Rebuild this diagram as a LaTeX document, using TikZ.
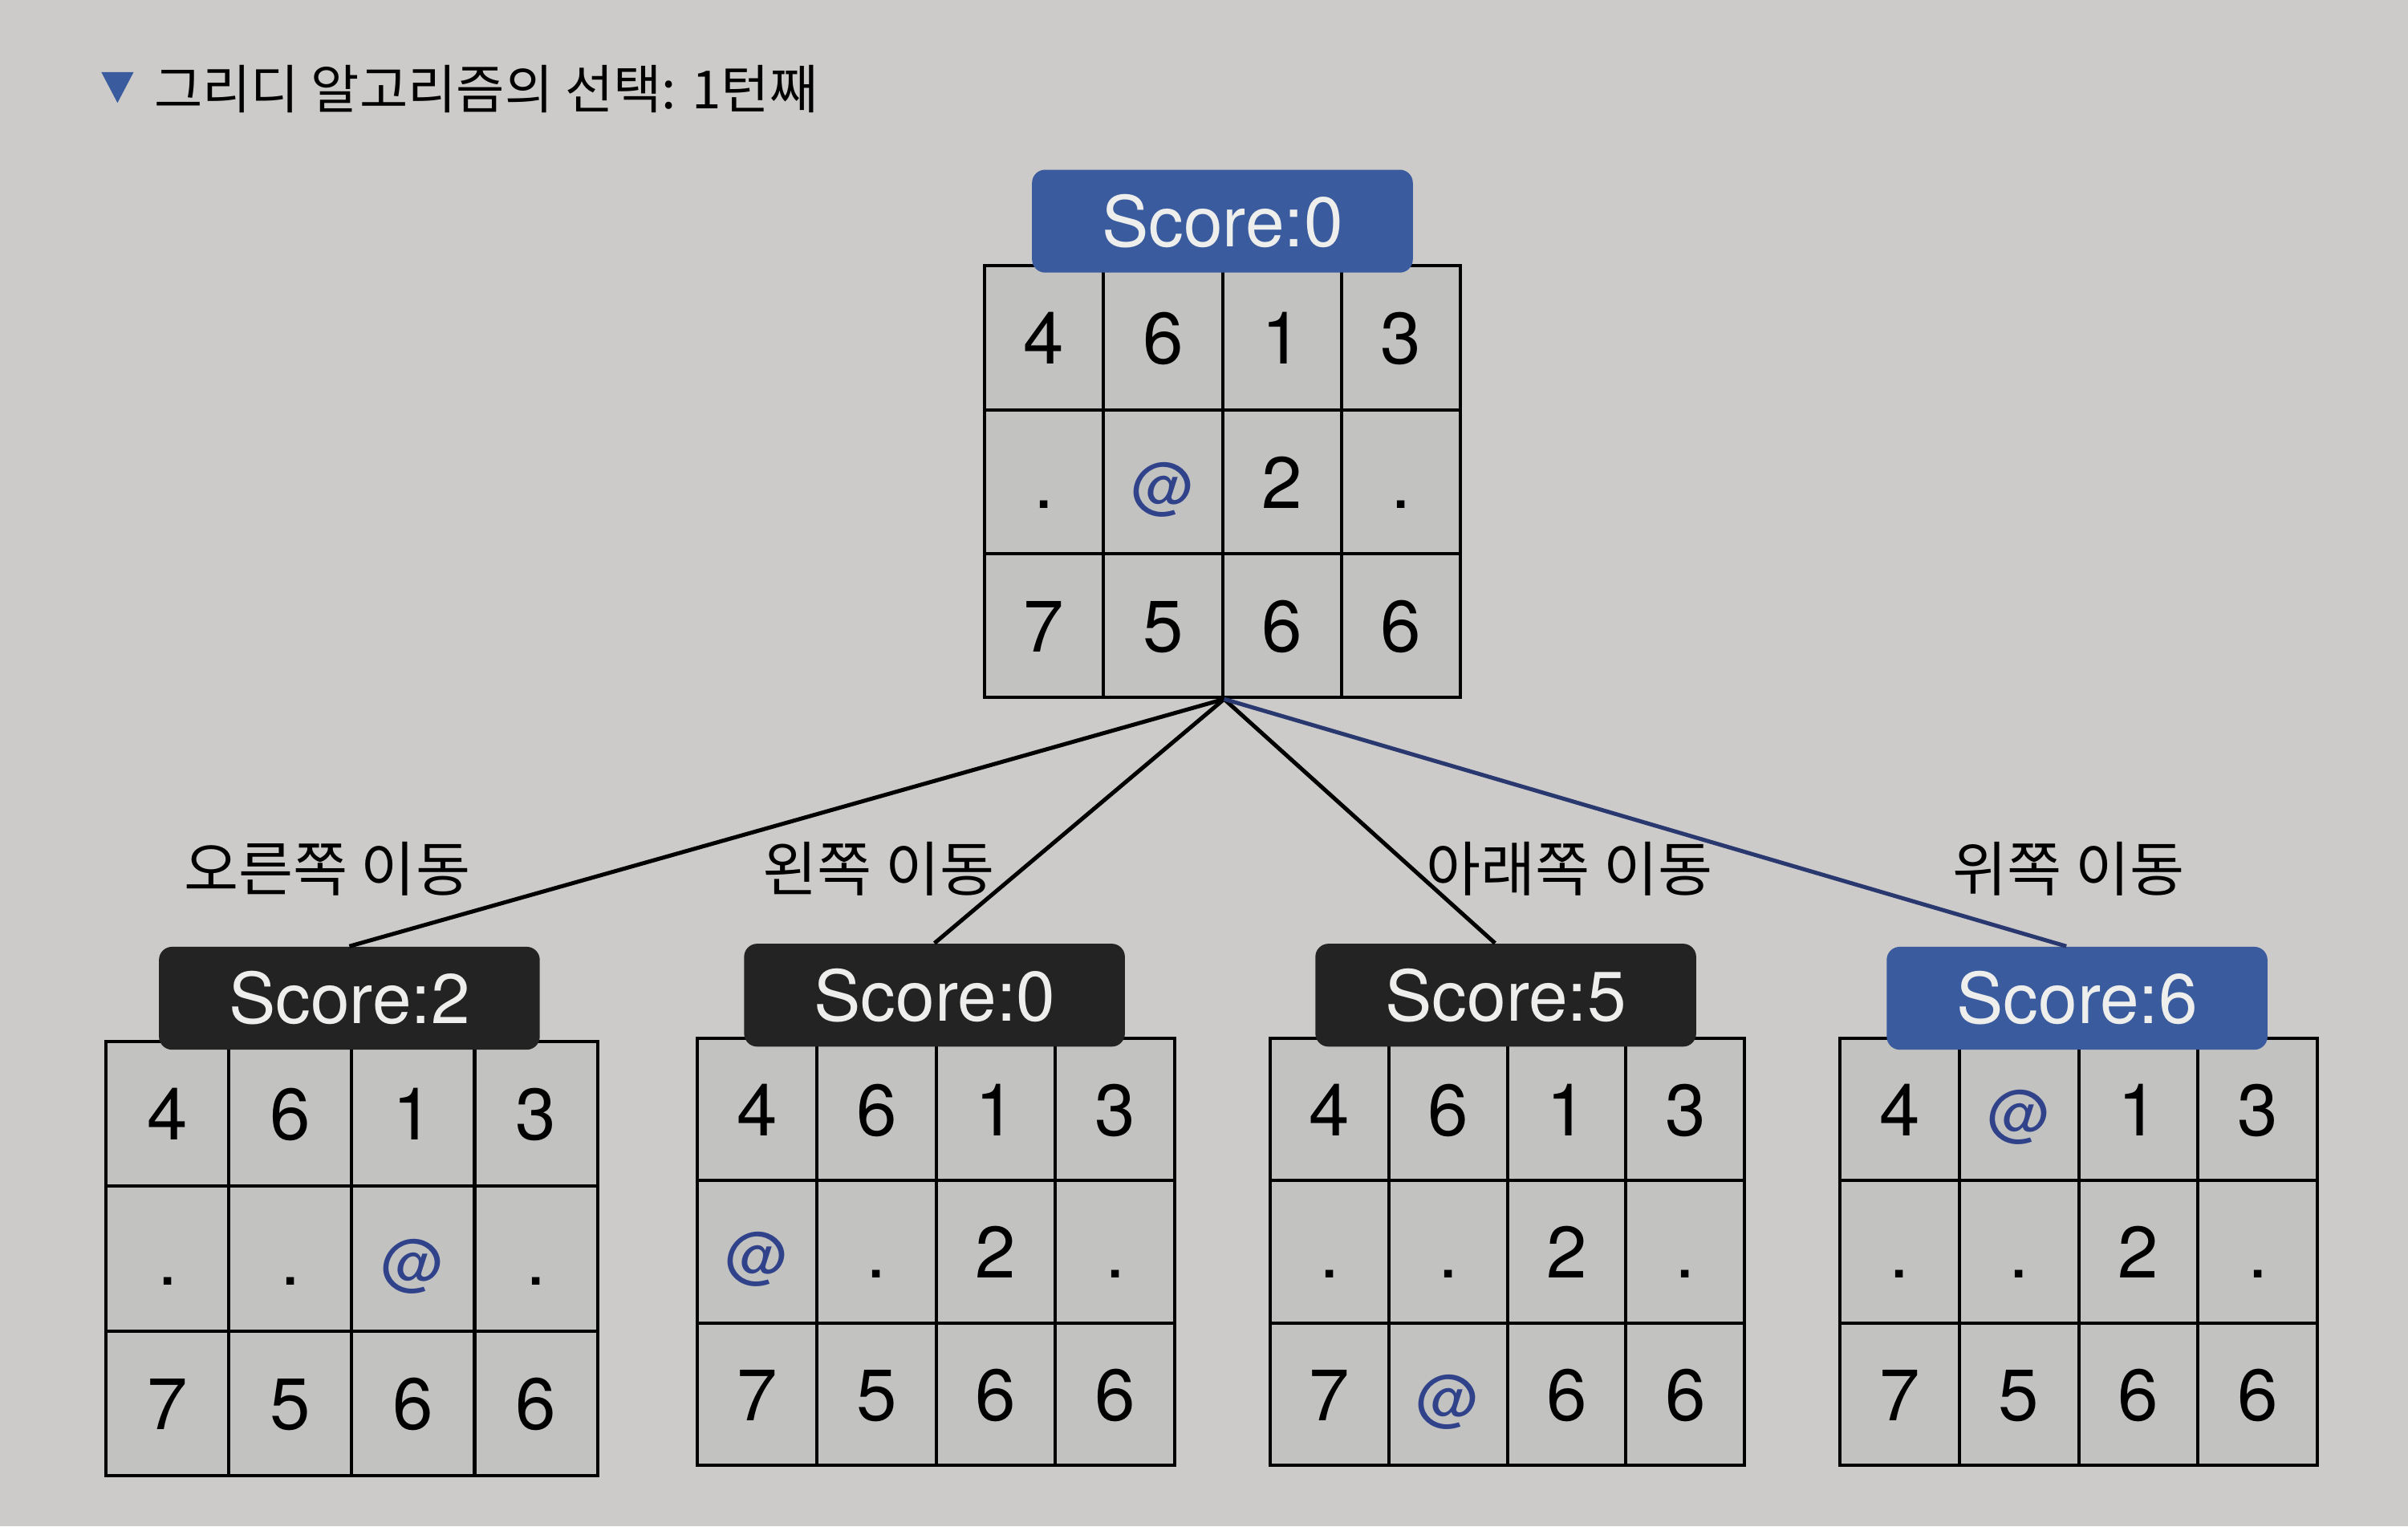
\documentclass[tikz,border=0pt]{standalone}
\usepackage{fontspec}
\setmainfont{TeX Gyre Heros}
\newfontfamily\kr{Noto Sans CJK KR}
\definecolor{paper}{RGB}{204,203,201}
\definecolor{cellgray}{RGB}{194,194,193}
\definecolor{boxblue}{RGB}{58,92,158}
\definecolor{boxblack}{RGB}{36,35,35}
\definecolor{lineblue}{RGB}{42,56,112}
\definecolor{atblue}{RGB}{48,66,138}
\definecolor{scoretext}{RGB}{238,238,236}
\newcommand{\A}{\textcolor{atblue}{\scalebox{0.85}{@}}}
\tikzset{
  cell/.style={draw=black, line width=1.2pt, fill=cellgray, inner sep=0pt,
    anchor=north west, font=\fontsize{27}{30}\selectfont,
    text height=19.5pt, text depth=0pt},
  scorebox/.style={rounded corners=0.17cm, minimum width=4.96cm, minimum height=1.34cm,
    inner sep=0pt, text=scoretext, font=\fontsize{26}{30}\selectfont},
  movelabel/.style={font=\kr\fontsize{22}{26}\selectfont, inner sep=0pt},
  conn/.style={line width=1.5pt, draw=black},
}
\newcommand{\mkgrid}[6]{%
  \foreach \v [count=\k from 0] in {#6} {
    \pgfmathtruncatemacro{\rr}{int(\k/4)}
    \pgfmathtruncatemacro{\cc}{mod(\k,4)}
    \node[cell, minimum width={#4*0.02cm}, minimum height={#5*0.02cm}]
      (#1-\rr-\cc) at ({#2+\cc*#4},{#3+\rr*#5}) {\v};
  }%
}
\begin{document}
\begin{tikzpicture}[x=0.02cm, y=-0.02cm]
  \fill[paper] (0,0) rectangle (1568,994);
  \useasboundingbox (0,0) rectangle (1568,994);

  % title
  \fill[boxblue] (66,47) -- (87,47) -- (76.5,67) -- cycle;
  \node[anchor=west, inner sep=0pt, font=\kr\fontsize{19.5}{23}\selectfont] (title) at (100,58)
    {그리디 알고리즘의 선택: 1턴째};

  % grids
  \mkgrid{top}{640}{172}{77.5}{93.7}{4,6,1,3,.,\A,2,.,7,5,6,6}
  \mkgrid{ga}{68}{677}{80}{94.3}{4,6,1,3,.,.,\A,.,7,5,6,6}
  \mkgrid{gb}{453}{675}{77.75}{92.7}{4,6,1,3,\A,.,2,.,7,5,6,6}
  \mkgrid{gc}{826}{675}{77.25}{92.7}{4,6,1,3,.,.,2,.,7,\A,6,6}
  \mkgrid{gd}{1197}{675}{77.75}{92.7}{4,\A,1,3,.,.,2,.,7,5,6,6}

  % score boxes
  \node[scorebox, fill=boxblue] (s0) at (796,144) {Score:0};
  \node[scorebox, fill=boxblack] (s1) at (227.5,650) {Score:2};
  \node[scorebox, fill=boxblack] (s2) at (608.5,648) {Score:0};
  \node[scorebox, fill=boxblack] (s3) at (980.5,648) {Score:5};
  \node[scorebox, fill=boxblue] (s4) at (1352.5,650) {Score:6};

  % connectors
  \coordinate (apex) at (top-2-1.south east);
  \draw[conn] (apex) -- (s1.north);
  \draw[conn] (apex) -- (s2.north);
  \draw[conn] (apex) -- ([xshift=-0.14cm]s3.north);
  \draw[conn, draw=lineblue] (apex) -- ([xshift=-0.14cm]s4.north);

  % move labels
  \node[movelabel] (m1) at (213,566) {오른쪽 이동};
  \node[movelabel] (m2) at (572,566) {왼쪽 이동};
  \node[movelabel] (m3) at (1022,566) {아래쪽 이동};
  \node[movelabel] (m4) at (1347,566) {위쪽 이동};
\end{tikzpicture}
\end{document}
